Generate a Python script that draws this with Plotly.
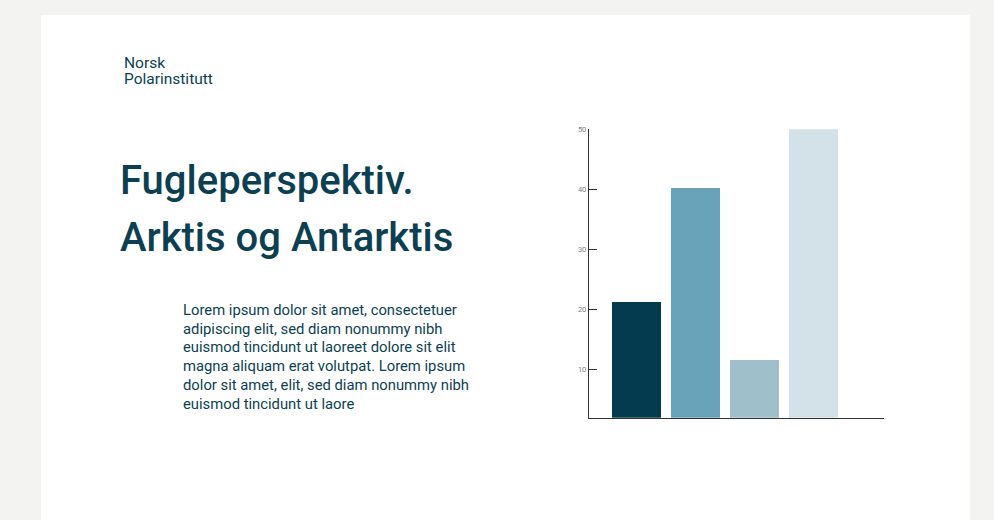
import plotly.graph_objects as go

categories = ["A", "B", "C", "D"]
values = [21.2, 40.2, 11.55, 50.0]
bar_colors = ["#053b4f", "#69a3b9", "#9fbfca", "#d3e2e9"]
tick_vals = [10, 20, 30, 40, 50]
tick_text = ["10", "20", "30", "40", "50"]

org_lines = ["Norsk", "Polarinstitutt"]
title_lines = ["Fugleperspektiv.", "Arktis og Antarktis"]
body_lines = [
    "Lorem ipsum dolor sit amet, consectetuer",
    "adipiscing elit, sed diam nonummy nibh",
    "euismod tincidunt ut laoreet dolore sit elit",
    "magna aliquam erat volutpat. Lorem ipsum",
    "dolor sit amet, elit, sed diam nonummy nibh",
    "euismod tincidunt ut laore",
]

W, H = 994, 520
H_EFF = 516
TXT = "#0b3f52"
FONT = "Roboto"

def px(x):
    return x / W

def py(y):
    return (H - y) / H_EFF

fig = go.Figure()
fig.add_trace(go.Bar(
    x=list(range(len(categories))), y=values,
    marker=dict(color=bar_colors, line=dict(width=0)),
    width=0.83, hoverinfo="skip",
))

annotations = []
for i, t in enumerate(org_lines):
    annotations.append(dict(text=t, x=px(122), y=py(63.5 + i * 15.5), xref="paper", yref="paper",
                            xanchor="left", yanchor="middle", showarrow=False,
                            font=dict(family=FONT, size=15.5, color=TXT)))
for i, t in enumerate(title_lines):
    annotations.append(dict(text=t, x=px(118), y=py(180 + i * 57), xref="paper", yref="paper",
                            xanchor="left", yanchor="middle", showarrow=False,
                            font=dict(family=FONT, size=40, color=TXT, weight=500)))
for i, t in enumerate(body_lines):
    annotations.append(dict(text=t, x=px(181), y=py(310 + i * 18.7), xref="paper", yref="paper",
                            xanchor="left", yanchor="middle", showarrow=False,
                            font=dict(family=FONT, size=14.8, color=TXT)))

fig.update_layout(
    width=W, height=H,
    margin=dict(l=0, r=0, t=0, b=0),
    paper_bgcolor="#f3f3f1",
    plot_bgcolor="rgba(0,0,0,0)",
    showlegend=False,
    bargap=0,
    shapes=[dict(type="rect", xref="paper", yref="paper", x0=px(41), x1=px(970), y0=-0.05, y1=py(15),
                 fillcolor="#ffffff", line=dict(width=0), layer="below")],
    annotations=annotations,
    xaxis=dict(domain=[px(589), px(884)], range=[-0.805, 4.195], showgrid=False, zeroline=False,
               showticklabels=False, ticks="", showline=True, linecolor="#333333", linewidth=1.3,
               fixedrange=True),
    yaxis=dict(domain=[py(417.7), py(129.3)], range=[1.93, 50], showgrid=False, zeroline=False,
               tickvals=tick_vals, ticktext=tick_text, ticks="inside", ticklen=8, tickcolor="#333333",
               tickwidth=1.2, showline=True, linecolor="#333333", linewidth=1.3,
               tickfont=dict(family=FONT, size=7.5, color="#7d828a"), fixedrange=True),
)

fig.write_html("out.html", config={"displayModeBar": False},
               post_script="document.body.style.margin='0';document.body.style.overflow='hidden';")
